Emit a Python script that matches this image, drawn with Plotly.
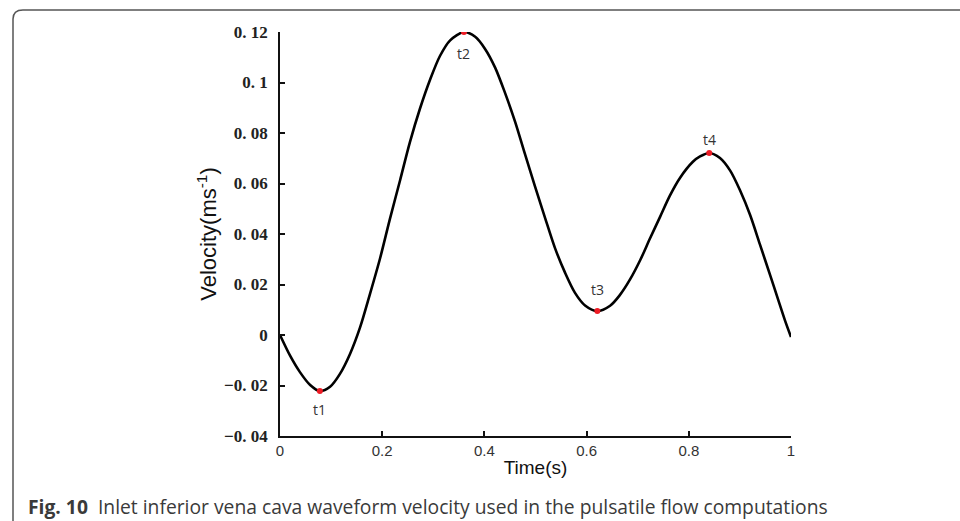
import plotly.graph_objects as go

# Waveform samples (time in s, velocity in m/s)
time_s = [0.0, 0.020, 0.039, 0.059, 0.078, 0.098, 0.117, 0.137, 0.157, 0.176,
          0.196, 0.215, 0.235, 0.254, 0.274, 0.294, 0.313, 0.333, 0.360, 0.382,
          0.401, 0.421, 0.440, 0.460, 0.479, 0.499, 0.519, 0.538, 0.558, 0.577,
          0.597, 0.621, 0.646, 0.665, 0.685, 0.705, 0.724, 0.744, 0.763, 0.783,
          0.808, 0.822, 0.840, 0.861, 0.881, 0.900, 0.920, 0.939, 0.959, 0.975,
          0.988, 1.0]
velocity = [0.0, -0.0083, -0.0147, -0.0198, -0.0222, -0.0205, -0.0155, -0.0075, 0.0032, 0.0162,
            0.0305, 0.0459, 0.0613, 0.0762, 0.0897, 0.1013, 0.1105, 0.1167, 0.1200, 0.1181,
            0.1134, 0.1059, 0.0961, 0.0845, 0.0719, 0.0589, 0.0462, 0.0345, 0.0246, 0.0168,
            0.0117, 0.0095, 0.0116, 0.0158, 0.0220, 0.0297, 0.0382, 0.0469, 0.0552, 0.0623,
            0.0686, 0.0707, 0.0721, 0.0701, 0.0651, 0.0574, 0.0475, 0.0360, 0.0238, 0.0139,
            0.0059, -0.0008]

# Marked instants
point_labels = ["t1", "t2", "t3", "t4"]
point_t = [0.078, 0.360, 0.621, 0.840]
point_v = [-0.0222, 0.1200, 0.0095, 0.0721]
label_shift = [-18, -21, 22, 13]

# Axis ticks
x_tickvals = [0, 0.2, 0.4, 0.6, 0.8, 1]
x_ticktext = ["0", "0.2", "0.4", "0.6", "0.8", "1"]
y_tickvals = [0.12, 0.10, 0.08, 0.06, 0.04, 0.02, 0.0, -0.02, -0.04]
y_ticktext = ["0. 12", "0. 1", "0. 08", "0. 06", "0. 04", "0. 02", "0", "\u22120. 02", "\u22120. 04"]

fig = go.Figure()
fig.add_trace(go.Scatter(x=time_s, y=velocity, mode="lines",
                         line=dict(color="black", width=2.6, shape="spline", smoothing=0.8),
                         hoverinfo="skip", showlegend=False))
fig.add_trace(go.Scatter(x=point_t, y=point_v, mode="markers",
                         marker=dict(color="#ee1c25", size=6),
                         showlegend=False))

for lab, t, v, s in zip(point_labels, point_t, point_v, label_shift):
    fig.add_annotation(x=t, y=v, text=lab, showarrow=False, yshift=s,
                       font=dict(family="Open Sans", size=14, color="#333333"))

# Caption
fig.add_annotation(xref="paper", yref="paper", x=-0.498, y=-0.175, xanchor="left", yanchor="middle",
                   text="<b>Fig. 10</b>  Inlet inferior vena cava waveform velocity used in the pulsatile flow computations",
                   showarrow=False, font=dict(family="Open Sans", size=19.3, color="#3a3a3a"))

# Frame with rounded top-left corner
fig.add_shape(type="path", xref="paper", yref="paper",
              path="M -0.5225,-0.25 L -0.5225,1.032 Q -0.5225,1.0545 -0.503,1.0545 L 1.35,1.0545",
              line=dict(color="#555555", width=1.5))

fig.update_layout(
    width=960, height=521,
    margin=dict(l=280, r=169, t=32, b=85),
    paper_bgcolor="white", plot_bgcolor="white",
    xaxis=dict(range=[0, 1], tickvals=x_tickvals, ticktext=x_ticktext,
               showgrid=False, zeroline=False, showline=True, linecolor="#111111", linewidth=1.6,
               ticks="inside", ticklen=5, tickwidth=1.5, tickcolor="#111111",
               tickfont=dict(family="Liberation Sans", size=15, color="#333333"),
               title=dict(text="Time(s)", font=dict(family="Liberation Sans", size=19, color="#111111"),
                          standoff=3)),
    yaxis=dict(range=[-0.04, 0.12], tickvals=y_tickvals, ticktext=y_ticktext,
               showgrid=False, zeroline=False, showline=True, linecolor="#111111", linewidth=1.6,
               ticks="inside", ticklen=5, tickwidth=1.5, tickcolor="#111111",
               ticklabelstandoff=7,
               tickfont=dict(family="Liberation Serif", size=17, color="#222222", weight="bold"),
               title=dict(text="Velocity(ms<sup>-1</sup>)", font=dict(family="Liberation Sans", size=22, color="#111111"),
                          standoff=1)),
)

fig.write_html("out.html")
